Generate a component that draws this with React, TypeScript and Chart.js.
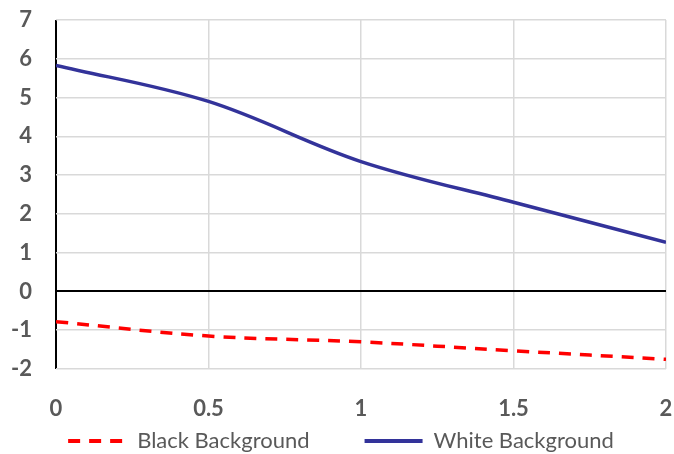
import React, { useEffect, useRef } from "react";
import { Chart, registerables } from "chart.js";

Chart.register(...registerables);

const xValues = [0, 0.5, 1, 1.5, 2];
const blackBackground = [-0.78, -1.15, -1.3, -1.53, -1.75];
const whiteBackground = [5.83, 4.9, 3.35, 2.3, 1.27];
const seriesNames = ["Black Background", "White Background"];

export default function App() {
  const ref = useRef<HTMLCanvasElement | null>(null);
  useEffect(() => {
    document.body.style.margin = "0";
    const ctx = ref.current!;
    const chart = new Chart(ctx, {
      type: "line",
      data: {
        datasets: [
          {
            label: seriesNames[0],
            data: xValues.map((x, i) => ({ x, y: blackBackground[i] })),
            borderColor: "#ff0000",
            backgroundColor: "#ff0000",
            borderWidth: 3.5,
            borderDash: [12, 9],
            pointRadius: 0,
            tension: 0.35,
          },
          {
            label: seriesNames[1],
            data: xValues.map((x, i) => ({ x, y: whiteBackground[i] })),
            borderColor: "#33339a",
            backgroundColor: "#33339a",
            borderWidth: 3.5,
            pointRadius: 0,
            tension: 0.35,
          },
        ],
      },
      options: {
        animation: false,
        responsive: false,
        maintainAspectRatio: false,
        layout: { padding: { top: 20, right: 0, left: 8, bottom: -8 } },
        plugins: {
          tooltip: { enabled: false },
          legend: {
            position: "bottom",
            labels: {
              usePointStyle: true,
              pointStyle: "line",
              pointStyleWidth: 58,
              boxWidth: 58,
              padding: 55,
              color: "#595959",
              font: { family: "Lato", size: 22 },
              generateLabels: (c: any) =>
                c.data.datasets.map((d: any, i: number) => ({
                  text: d.label,
                  fillStyle: d.borderColor,
                  strokeStyle: d.borderColor,
                  lineWidth: 4,
                  lineDash: d.borderDash || [],
                  pointStyle: "line",
                  fontColor: "#595959",
                  datasetIndex: i,
                  hidden: false,
                })),
            },
          },
        },
        scales: {
          x: {
            type: "linear",
            min: 0,
            max: 2,
            ticks: {
              stepSize: 0.5,
              mirror: true,
              padding: -53,
              color: "#595959",
              font: { family: "Lato", size: 22, weight: "bold" },
              callback: (v: any) => String(v),
            },
            grid: {
              color: (c: any) => (c.tick && c.tick.value === 0 ? "#000000" : "#d9d9d9"),
              lineWidth: (c: any) => (c.tick && c.tick.value === 0 ? 2 : 1.5),
              drawTicks: false,
            },
            border: { display: false },
            afterFit: (s: any) => {
              s.height = 6;
              s.paddingLeft = 0;
              s.paddingRight = 8;
            },
          },
          y: {
            min: -2,
            max: 7,
            ticks: {
              stepSize: 1,
              padding: 24,
              color: "#595959",
              font: { family: "Lato", size: 22, weight: "bold" },
            },
            grid: {
              color: (c: any) => (c.tick && c.tick.value === 0 ? "#000000" : "#d9d9d9"),
              lineWidth: (c: any) => (c.tick && c.tick.value === 0 ? 2 : 1.5),
              drawTicks: false,
            },
            border: { display: false },
            afterFit: (s: any) => {
              s.width = 48;
              s.paddingTop = 0;
              s.paddingBottom = 0;
            },
          },
        },
      },
    });
    return () => chart.destroy();
  }, []);
  return (
    <div style={{ width: 674, height: 454, background: "#fff" }}>
      <canvas ref={ref} width={674} height={454} style={{ width: 674, height: 454 }} />
    </div>
  );
}
